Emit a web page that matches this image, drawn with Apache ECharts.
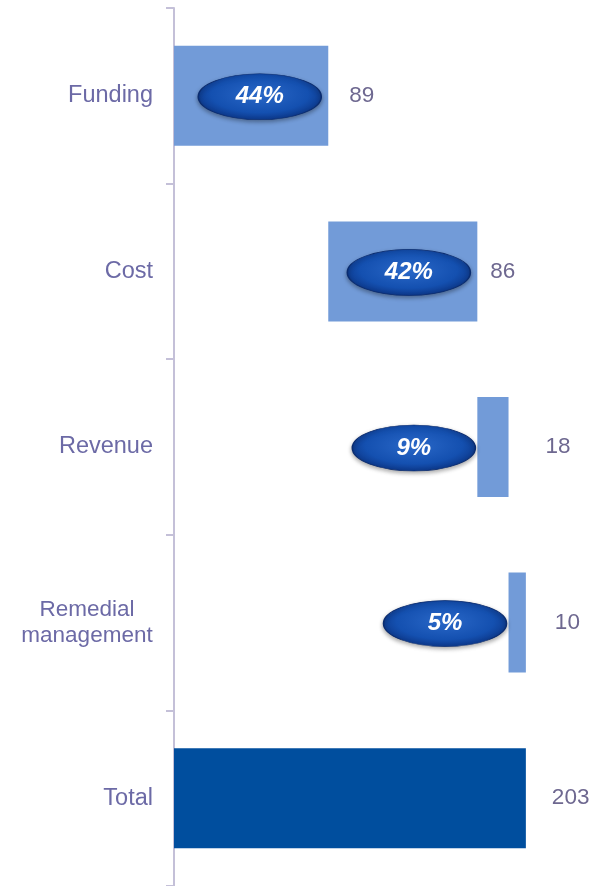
<!DOCTYPE html>
<html>
  <head>
    <meta charset="UTF-8" />
    <title>Waterfall</title>
    <script src="https://cdn.jsdelivr.net/npm/echarts@6/dist/echarts.min.js"></script>
    <style>
      html, body { margin: 0; padding: 0; background: #fff; }
      #main { width: 597px; height: 886px; }
    </style>
  </head>
  <body>
    <div id="main"></div>
    <script type="text/javascript">
      // data
      var categories = ["Funding", "Cost", "Revenue", "Remedial\nmanagement", "Total"];
      var values = [89, 86, 18, 10, 203];
      var shares = ["44%", "42%", "9%", "5%"];
      var isTotal = [false, false, false, false, true];

      // invisible base for the waterfall steps
      var base = [];
      var run = 0;
      for (var i = 0; i < values.length; i++) {
        if (isTotal[i]) {
          base.push(0);
        } else {
          base.push(run);
          run += values[i];
        }
      }

      // label distances
      var labelGap = [21, 13, 37, 29, 26];

      var ellipseData = [];
      for (var j = 0; j < shares.length; j++) {
        ellipseData.push([j, base[j], base[j] + values[j], shares[j]]);
      }

      // two-line label: lines centred on each other, block kept to the right
      var catData = categories.map(function (c) {
        if (c.indexOf("\n") < 0) return c;
        return { value: c, textStyle: { align: "center", fontSize: 22.5, padding: [12, 132, 0, 0] } };
      });

      var chart = echarts.init(document.getElementById("main"));

      var option = {
        backgroundColor: "#fff",
        animation: false,
        grid: { left: 174, right: 7, top: 8, bottom: -2 },
        xAxis: { type: "value", min: 0, max: 240, show: false },
        yAxis: {
          type: "category",
          inverse: true,
          data: catData,
          axisLine: { lineStyle: { color: "#c4c0d8", width: 2 } },
          axisTick: { show: true, length: 8, lineStyle: { color: "#c4c0d8", width: 2 } },
          axisLabel: {
            color: "#6c6aa6",
            fontSize: 23.5,
            fontFamily: "Liberation Sans",
            margin: 21,
            lineHeight: 26,
            align: "right",
            padding: [4, 0, 0, 0],
          },
        },
        series: [
          {
            type: "bar",
            stack: "wf",
            barWidth: 100,
            itemStyle: { color: "transparent" },
            emphasis: { disabled: true },
            data: base,
          },
          {
            type: "bar",
            stack: "wf",
            barWidth: 100,
            data: values.map(function (v, k) {
              return {
                value: v,
                itemStyle: { color: isTotal[k] ? "#004e9e" : "#729bd8" },
                label: { distance: labelGap[k] },
              };
            }),
            label: {
              show: true,
              position: "right",
              color: "#6e6890",
              fontSize: 22.5,
              fontFamily: "Liberation Sans",
              padding: [3, 0, 0, 0],
            },
          },
          {
            type: "custom",
            data: ellipseData,
            z: 10,
            renderItem: function (params, api) {
              var cat = api.value(0);
              var p0 = api.coord([api.value(1), cat]);
              var p1 = api.coord([api.value(2), cat]);
              var w = 123, h = 46;
              var right = p1[0] - p0[0] > w + 10 ? p1[0] - 7 : p0[0] - 2;
              var cx = right - w / 2;
              var cy = p0[1] + 1;
              return {
                type: "group",
                children: [
                  {
                    type: "circle",
                    x: cx,
                    y: cy,
                    scaleX: w / h,
                    shape: { cx: 0, cy: 0, r: h / 2 },
                    style: {
                      fill: {
                        type: "radial",
                        x: 0.5,
                        y: 0.45,
                        r: 0.6,
                        colorStops: [
                          { offset: 0, color: "#2a68c8" },
                          { offset: 0.65, color: "#1450b0" },
                          { offset: 1, color: "#0a2f7c" },
                        ],
                      },
                      stroke: "#0a2c70",
                      lineWidth: 0.6,
                      shadowBlur: 4,
                      shadowOffsetY: 2,
                      shadowColor: "rgba(0,0,0,0.35)",
                    },
                  },
                  {
                    type: "text",
                    x: cx,
                    y: cy,
                    style: {
                      text: api.value(3),
                      align: "center",
                      verticalAlign: "middle",
                      fill: "#fff",
                      font: "italic bold 24px 'Liberation Sans'",
                    },
                  },
                ],
              };
            },
          },
        ],
      };

      chart.setOption(option);
    </script>
  </body>
</html>
